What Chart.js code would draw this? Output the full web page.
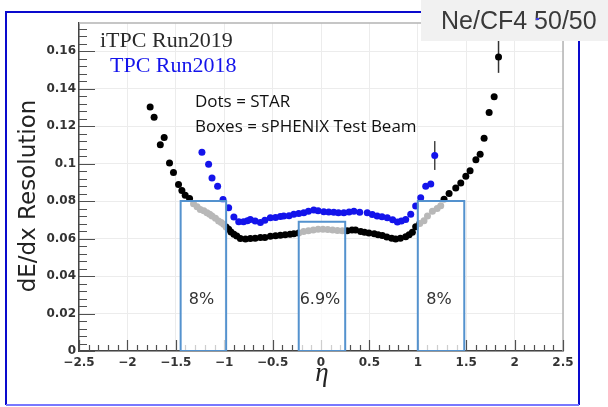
<!DOCTYPE html>
<html>
<head>
<meta charset="utf-8">
<script src="https://cdn.jsdelivr.net/npm/chart.js@4.4.1/dist/chart.umd.min.js"></script>
<style>
  html, body { margin: 0; padding: 0; background: #fff; }
  canvas { display: block; }
</style>
</head>
<body>
<canvas id="resolutionChart" width="608" height="407"></canvas>
<script>
// iTPC Run2019 (black dots)
const itpcEta = [-1.765, -1.724, -1.66, -1.62, -1.565, -1.524, -1.472, -1.437, -1.403, -1.358,
  -1.317, -1.28, -1.247, -1.21, -1.178, -1.15, -1.126, -1.09, -1.058, -1.03,
  -1.006, -0.98, -0.954, -0.93, -0.90, -0.87, -0.833, -0.78, -0.73, -0.68,
  -0.626, -0.58, -0.523, -0.47, -0.42, -0.37, -0.32, -0.28, -0.23, -0.18,
  -0.13, -0.08, -0.03, 0.02, 0.07, 0.12, 0.17, 0.22, 0.27, 0.32,
  0.357, 0.41, 0.45, 0.495, 0.55, 0.59, 0.634, 0.68, 0.73, 0.771,
  0.82, 0.875, 0.91, 0.944, 0.978, 1.02, 1.064, 1.10, 1.151, 1.20,
  1.237, 1.271, 1.323, 1.392, 1.444, 1.496, 1.54, 1.60, 1.644, 1.685,
  1.737, 1.789, 1.834];
const itpcRes = [0.1302, 0.1247, 0.1100, 0.1139, 0.1003, 0.0953, 0.0888, 0.0856, 0.0831, 0.0814,
  0.0785, 0.0770, 0.0755, 0.0748, 0.0737, 0.0730, 0.0720, 0.0708, 0.0693, 0.0685,
  0.0676, 0.0662, 0.0649, 0.0635, 0.0623, 0.0614, 0.0600, 0.0598, 0.0600, 0.0602,
  0.0605, 0.0606, 0.0612, 0.0615, 0.0617, 0.0620, 0.0623, 0.0625, 0.0630, 0.0638,
  0.0642, 0.0646, 0.0650, 0.0650, 0.0648, 0.0645, 0.0643, 0.0642, 0.0642, 0.0645,
  0.0646, 0.0638, 0.0634, 0.0630, 0.0625, 0.0620, 0.0616, 0.0608, 0.0602, 0.0598,
  0.0602, 0.0610, 0.0620, 0.0633, 0.0663, 0.0680, 0.0695, 0.0720, 0.0746, 0.0760,
  0.0775, 0.0810, 0.0840, 0.0870, 0.0897, 0.0932, 0.0962, 0.1020, 0.1050, 0.1135,
  0.1272, 0.1357, 0.1569];

// TPC Run2018 (blue dots)
const tpcEta = [-1.23, -1.161, -1.126, -1.068, -1.012, -0.954, -0.90, -0.85, -0.80, -0.76,
  -0.73, -0.68, -0.626, -0.58, -0.523, -0.47, -0.42, -0.385, -0.33, -0.281,
  -0.23, -0.178, -0.13, -0.075, -0.03, 0.029, 0.08, 0.132, 0.18, 0.236,
  0.29, 0.34, 0.40, 0.478, 0.53, 0.58, 0.63, 0.685, 0.74, 0.789,
  0.83, 0.875, 0.927, 0.978, 1.03, 1.082, 1.134, 1.175];
const tpcRes = [0.1061, 0.0997, 0.0923, 0.0879, 0.0808, 0.0764, 0.0715, 0.0690, 0.0690, 0.0695,
  0.0702, 0.0693, 0.0686, 0.0698, 0.0711, 0.0712, 0.0718, 0.0720, 0.0722, 0.0729,
  0.0733, 0.0737, 0.0745, 0.0752, 0.0748, 0.0743, 0.0741, 0.0740, 0.0738, 0.0737,
  0.0742, 0.0745, 0.0740, 0.0737, 0.0728, 0.0720, 0.0716, 0.0711, 0.0700, 0.0688,
  0.0693, 0.0702, 0.0729, 0.0773, 0.0817, 0.0879, 0.0891, 0.1043];

// error bars large enough to show outside the marker: [eta, half-width]
const itpcErr = [[1.834, 0.0085]];
const tpcErr = [[1.175, 0.0077]];

// sPHENIX test beam boxes
const boxLow = [-1.45, -0.23, 1.0];
const boxHigh = [-0.98, 0.25, 1.48];
const boxRes = [0.08, 0.069, 0.08];

const BLACK = '#000000';
const BLUE = 'rgb(20, 20, 235)';
const BOX_BLUE = 'rgb(84, 146, 206)';

// box outlines, closed along the axis
const boxDatasets = boxLow.map((lo, i) => ({
  type: 'line',
  data: [
    { x: lo, y: 0 }, { x: lo, y: boxRes[i] },
    { x: boxHigh[i], y: boxRes[i] }, { x: boxHigh[i], y: 0 }, { x: lo, y: 0 }
  ],
  borderColor: BOX_BLUE,
  borderWidth: 2,
  fill: false,
  pointRadius: 0,
  tension: 0,
  order: 0
}));

function drawErrors(ctx, x, y, etas, vals, errs, color) {
  ctx.strokeStyle = color;
  ctx.lineWidth = 1.5;
  errs.forEach(([eta, e]) => {
    const i = etas.indexOf(eta);
    if (i < 0) return;
    const px = x.getPixelForValue(eta);
    ctx.beginPath();
    ctx.moveTo(px, y.getPixelForValue(vals[i] - e));
    ctx.lineTo(px, y.getPixelForValue(vals[i] + e));
    ctx.stroke();
  });
}

const rootStyle = {
  id: 'rootStyle',
  beforeDatasetsDraw(chart) {
    const { ctx, chartArea: a, scales: { x, y } } = chart;
    ctx.save();
    // light frame on the top and right
    ctx.strokeStyle = '#b4b4b4';
    ctx.lineWidth = 1.5;
    ctx.beginPath();
    ctx.moveTo(a.left, a.top);
    ctx.lineTo(a.right, a.top);
    ctx.lineTo(a.right, a.bottom);
    ctx.stroke();

    // inward major/minor ticks
    ctx.strokeStyle = '#505050';
    ctx.lineWidth = 1.2;
    ctx.beginPath();
    for (let i = 0; ; i++) {
      const v = y.min + i * 0.004;
      if (v > y.max + 1e-9) break;
      const py = Math.round(y.getPixelForValue(v)) + 0.5;
      ctx.moveTo(a.left, py);
      ctx.lineTo(a.left + (i % 5 === 0 ? 16 : 8), py);
    }
    for (let i = 0; ; i++) {
      const v = x.min + i * 0.1;
      if (v > x.max + 1e-9) break;
      const px = Math.round(x.getPixelForValue(v)) + 0.5;
      ctx.moveTo(px, a.bottom);
      ctx.lineTo(px, a.bottom - (i % 5 === 0 ? 11 : 6));
    }
    ctx.stroke();

    drawErrors(ctx, x, y, itpcEta, itpcRes, itpcErr, '#333');
    drawErrors(ctx, x, y, tpcEta, tpcRes, tpcErr, '#444');
    ctx.restore();
  },
  // the boxes are drawn last; wash out the dots behind them first
  beforeDatasetDraw(chart, args) {
    if (args.index !== boxLow.length - 1) return;
    const { ctx, scales: { x, y } } = chart;
    ctx.save();
    ctx.fillStyle = 'rgba(255, 255, 255, 0.72)';
    boxLow.forEach((lo, i) => {
      const left = x.getPixelForValue(lo);
      const top = y.getPixelForValue(boxRes[i]);
      ctx.fillRect(left, top, x.getPixelForValue(boxHigh[i]) - left, y.getPixelForValue(0) - top);
    });
    ctx.restore();
  },
  afterDatasetsDraw(chart) {
    const { ctx, scales: { x, y } } = chart;
    ctx.save();
    ctx.fillStyle = '#333';
    ctx.font = '16px "DejaVu Sans"';
    ctx.textAlign = 'center';
    ctx.textBaseline = 'alphabetic';
    boxRes.forEach((r, i) => {
      const cx = x.getPixelForValue((boxLow[i] + boxHigh[i]) / 2);
      ctx.fillText(+(r * 100).toFixed(1) + '%', cx - 2, y.getPixelForValue(0.025));
    });
    ctx.restore();
  },
  afterDraw(chart) {
    const { ctx } = chart;
    ctx.save();

    // axis titles
    ctx.fillStyle = '#222';
    ctx.font = '23px "DejaVu Sans"';
    ctx.textAlign = 'center';
    ctx.textBaseline = 'alphabetic';
    ctx.translate(35, 196);
    ctx.rotate(-Math.PI / 2);
    ctx.fillText('dE/dx Resolution', 0, 0);
    ctx.setTransform(1, 0, 0, 1, 0, 0);
    ctx.font = 'italic 27px "Liberation Serif"';
    ctx.fillText('\u03B7', 322, 381);

    // legend text
    ctx.textAlign = 'left';
    ctx.font = '22px "Liberation Serif"';
    ctx.fillStyle = '#2a2a2a';
    ctx.fillText('iTPC Run2019', 100, 47);
    ctx.fillStyle = BLUE;
    ctx.fillText('TPC Run2018', 110, 72);
    ctx.fillStyle = '#111';
    ctx.font = '17px "Open Sans"';
    ctx.fillText('Dots = STAR', 195, 107);
    ctx.fillText('Boxes = sPHENIX Test Beam', 195, 132);

    // outer blue frame
    ctx.strokeStyle = 'rgb(10, 10, 205)';
    ctx.lineWidth = 2;
    ctx.beginPath();
    ctx.moveTo(6, 405);
    ctx.lineTo(6, 12);
    ctx.lineTo(579, 12);
    ctx.lineTo(579, 405);
    ctx.stroke();
    ctx.strokeStyle = 'rgb(120, 120, 255)';
    ctx.beginPath();
    ctx.moveTo(6, 405);
    ctx.lineTo(579, 405);
    ctx.stroke();

    // gas label
    ctx.fillStyle = '#f1f1f1';
    ctx.fillRect(421, 0, 187, 41);
    ctx.fillStyle = '#3a3a3a';
    ctx.font = '25px "Liberation Sans"';
    ctx.fillText('Ne/CF4 50/50', 441, 29);
    ctx.fillStyle = 'rgb(60, 60, 230)';
    ctx.fillRect(536, 18, 3, 2);
    ctx.restore();
  }
};

const tickFont = { family: 'DejaVu Sans', weight: 'bold', size: 12 };

new Chart(document.getElementById('resolutionChart'), {
  type: 'scatter',
  data: {
    datasets: [
      ...boxDatasets,
      {
        label: 'TPC Run2018',
        data: tpcEta.map((eta, i) => ({ x: eta, y: tpcRes[i] })),
        backgroundColor: BLUE,
        borderWidth: 0,
        pointRadius: 3.5,
        order: 1
      },
      {
        label: 'iTPC Run2019',
        data: itpcEta.map((eta, i) => ({ x: eta, y: itpcRes[i] })),
        backgroundColor: BLACK,
        borderWidth: 0,
        pointRadius: 3.5,
        order: 2
      }
    ]
  },
  options: {
    responsive: false,
    animation: false,
    devicePixelRatio: 1,
    layout: { padding: { left: 0, right: 45, top: 23, bottom: 0 } },
    plugins: { legend: { display: false }, tooltip: { enabled: false } },
    scales: {
      x: {
        type: 'linear',
        min: -2.5,
        max: 2.5,
        afterFit(scale) { scale.height = 56; },
        border: { color: '#444', width: 1.5 },
        grid: { color: '#ececec', drawTicks: false },
        ticks: {
          stepSize: 0.5,
          includeBounds: false,
          maxRotation: 0,
          autoSkip: false,
          padding: 5,
          color: '#333',
          font: tickFont,
          callback: v => (v < 0 ? '\u2212' + (-v) : String(v))
        }
      },
      y: {
        min: 0,
        max: 0.175,
        afterFit(scale) { scale.width = 79; },
        border: { color: '#444', width: 1.5 },
        grid: { color: '#ececec', drawTicks: false },
        ticks: {
          stepSize: 0.02,
          includeBounds: false,
          padding: 3,
          color: '#333',
          font: tickFont,
          callback: v => String(+v.toFixed(2))
        }
      }
    }
  },
  plugins: [rootStyle]
});
</script>
</body>
</html>
